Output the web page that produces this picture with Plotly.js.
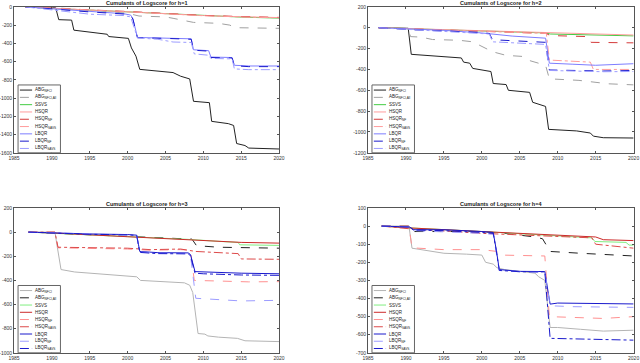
<!DOCTYPE html>
<html>
<head>
<meta charset="utf-8">
<script src="https://cdn.plot.ly/plotly-3.0.1.min.js"></script>
<style>
  html, body { margin: 0; padding: 0; background: #fff; }
  #plot { width: 640px; height: 363px; }
</style>
</head>
<body>
<div id="plot"></div>
<script>
// Cumulative log scores, [year, value] pairs
const h1_abg   = [[1986.5,0],[1990.5,-10],[1990.9,-140],[1992.6,-145],[1992.9,-255],[1995.5,-280],[1997.3,-300],[1997.5,-325],[2000.1,-345],[2000.5,-450],[2001.1,-540],[2001.6,-685],[2004,-700],[2006,-720],[2007,-760],[2008.2,-790],[2008.7,-1035],[2010.8,-1050],[2011.1,-1255],[2013.3,-1280],[2014,-1300],[2014.4,-1498],[2015.5,-1520],[2016,-1548],[2020,-1558]];
const h1_abg2  = [[1986.5,0],[1990.5,-10],[1995,-35],[2000,-70],[2001.5,-100],[2005,-110],[2006,-125],[2007.5,-150],[2008.7,-170],[2012,-180],[2013.5,-200],[2014.2,-228],[2020,-235]];
const h1_ssvs  = [[1986.5,0],[1990,-18],[1995,-35],[2000,-55],[2005,-80],[2010,-100],[2015,-112],[2020,-123]];
const h1_hsqr  = [[1986.5,0],[1990,-15],[1995,-32],[2000,-52],[2005,-75],[2010,-95],[2015,-108],[2020,-117]];
const h1_hsqr2 = [[1986.5,0],[1990,-16],[1995,-33],[2000,-50],[2005,-73],[2010,-93],[2015,-106],[2020,-115]];
const h1_hsqr3 = [[1986.5,0],[1990,-17],[1995,-34],[2000,-53],[2005,-77],[2010,-97],[2015,-110],[2020,-120]];
const h1_lbqr  = [[1986.5,0],[1990.5,-25],[1995,-50],[1999.5,-75],[2000.4,-90],[2000.7,-130],[2001.3,-335],[2005,-340],[2008.4,-350],[2008.7,-470],[2010.7,-480],[2011,-550],[2013.8,-555],[2014.1,-640],[2016,-648],[2020,-648]];
const h1_lbqr2 = [[1986.5,0],[1990.5,-28],[1995,-55],[1999.5,-78],[2000.4,-92],[2000.7,-135],[2001.3,-338],[2005,-345],[2008.4,-355],[2008.7,-475],[2010.7,-485],[2011,-555],[2013.8,-560],[2014.1,-645],[2016,-655],[2020,-655]];
const h1_lbqr3 = [[1986.5,0],[1990.5,-35],[1995,-80],[1999.5,-95],[2000.4,-110],[2001.3,-340],[2004,-355],[2006,-385],[2008.4,-390],[2008.8,-515],[2010.7,-530],[2011,-565],[2013.8,-570],[2014.1,-680],[2016,-688],[2020,-688]];

const h2_abg   = [[1986.4,0],[1990.3,-5],[1990.7,-255],[1993,-265],[1996,-280],[1997.3,-290],[1997.6,-330],[1998.4,-340],[1998.8,-390],[2000.5,-410],[2001.2,-420],[2001.5,-535],[2003.2,-545],[2003.5,-600],[2006.3,-620],[2006.7,-715],[2008.4,-755],[2008.8,-975],[2012.5,-990],[2014.3,-1010],[2014.7,-1040],[2016,-1055],[2020,-1058]];
const h2_abg2  = [[1986.4,0],[1990.3,-5],[1990.6,-85],[1992,-90],[1993.5,-113],[1997,-120],[1998.8,-135],[2000.1,-180],[2001.4,-230],[2003.2,-265],[2005.3,-275],[2006.2,-313],[2008.4,-360],[2008.9,-490],[2012.8,-505],[2016.7,-538],[2020,-548]];
const h2_ssvs  = [[1986.4,0],[1995,-20],[2000,-35],[2005,-45],[2008.5,-50],[2009,-60],[2012,-65],[2016,-75],[2020,-78]];
const h2_hsqr  = [[1986.4,0],[1995,-18],[2000,-30],[2005,-40],[2008.5,-47],[2012,-55],[2016,-65],[2020,-70]];
const h2_hsqr2 = [[1986.4,0],[1995,-20],[2000,-32],[2005,-45],[2008.5,-55],[2009,-75],[2014,-85],[2014.4,-140],[2020,-145]];
const h2_hsqr3 = [[1986.4,0],[1995,-22],[2000,-35],[2005,-45],[2008.5,-55],[2008.9,-310],[2012,-320],[2014.3,-330],[2014.7,-400],[2020,-400]];
const h2_lbqr  = [[1986.4,0],[1991,-15],[1995,-25],[2000,-50],[2004,-80],[2008.4,-100],[2008.9,-340],[2012,-350],[2015,-360],[2020,-345]];
const h2_lbqr2 = [[1986.4,0],[1991,-20],[2000,-45],[2001,-55],[2001.4,-115],[2006,-130],[2008.4,-140],[2008.9,-405],[2012,-410],[2016,-415],[2020,-410]];
const h2_lbqr3 = [[1986.4,0],[1991,-18],[2000,-50],[2001,-60],[2001.4,-135],[2006,-150],[2008.4,-160],[2008.9,-410],[2012,-418],[2016,-422],[2020,-420]];

const h3_abg   = [[1986.9,0],[1990.4,0],[1990.7,-120],[1991.2,-310],[1993,-330],[1996,-345],[1998.8,-360],[2001.2,-370],[2001.7,-400],[2005,-412],[2007.5,-420],[2008.2,-440],[2008.6,-500],[2009.3,-840],[2010.2,-845],[2010.6,-860],[2012,-870],[2014.5,-880],[2015.5,-900],[2020,-907]];
const h3_abg2  = [[1986.9,0],[1995,-20],[2000,-35],[2005,-45],[2008.5,-58],[2009.1,-112],[2012,-125],[2020,-133]];
const h3_ssvs  = [[1986.9,0],[1990.5,-10],[2000,-40],[2005,-50],[2008,-60],[2013,-80],[2014.6,-85],[2014.8,-105],[2020,-110]];
const h3_hsqr  = [[1986.9,0],[1990.5,-8],[2000,-38],[2005,-55],[2008,-63],[2012,-75],[2015,-85],[2020,-91]];
const h3_hsqr2 = [[1986.9,0],[1990.4,0],[1990.8,-130],[1995,-135],[2000,-140],[2003,-150],[2007,-145],[2008.3,-150],[2008.8,-400],[2012,-405],[2016,-412],[2020,-410]];
const h3_hsqr3 = [[1986.9,0],[1990.4,0],[1990.8,-125],[1995,-128],[2000,-133],[2003,-145],[2007,-140],[2009,-160],[2012,-170],[2014.6,-178],[2015,-222],[2020,-225]];
const h3_lbqr  = [[1986.9,0],[1991,-10],[1995,-15],[2000,-20],[2001.2,-25],[2001.6,-160],[2004,-170],[2008,-172],[2008.3,-185],[2008.9,-327],[2010,-330],[2015,-340],[2020,-345]];
const h3_lbqr2 = [[1986.9,0],[1991,-10],[1995,-15],[2000,-25],[2001.2,-30],[2001.6,-165],[2004,-175],[2008,-178],[2008.3,-190],[2009,-548],[2013,-560],[2015,-570],[2020,-565]];
const h3_lbqr3 = [[1986.9,0],[1991,-12],[1995,-18],[2000,-22],[2001.2,-28],[2001.6,-168],[2004,-178],[2008,-180],[2008.3,-195],[2008.9,-340],[2010,-345],[2015,-355],[2020,-358]];

const h4_abg   = [[1986.8,0],[1990.4,0],[1990.8,-122],[1992,-130],[1995,-150],[1998,-155],[2000,-160],[2000.5,-200],[2001.5,-210],[2002,-230],[2003,-240],[2005,-250],[2007,-260],[2007.5,-280],[2008.3,-300],[2009,-560],[2010,-560],[2013,-570],[2016,-580],[2020,-575]];
const h4_abg2  = [[1986.8,0],[1990.4,0],[1990.8,-30],[2000,-30],[2003,-40],[2007,-60],[2008,-70],[2009,-140],[2013,-150],[2020,-165]];
const h4_ssvs  = [[1986.8,0],[1990.5,-10],[2000,-30],[2007,-45],[2010,-55],[2014.5,-65],[2014.9,-85],[2019,-90],[2019.4,-105],[2020,-105]];
const h4_hsqr  = [[1986.8,0],[1990.5,-10],[2000,-30],[2007,-45],[2010,-50],[2015,-60],[2016,-75],[2020,-80]];
const h4_hsqr2 = [[1986.8,0],[1990.4,0],[1990.8,-120],[1995,-130],[2000,-130],[2002,-140],[2002.5,-160],[2008.3,-165],[2008.9,-500],[2012,-505],[2016,-510],[2020,-500]];
const h4_hsqr3 = [[1986.8,0],[1990.5,-15],[2000,-40],[2005,-50],[2008,-55],[2012,-60],[2014.5,-65],[2015,-100],[2020,-122]];
const h4_lbqr  = [[1986.8,0],[1990.5,-5],[1991,-20],[1995,-20],[2000,-30],[2001.5,-35],[2001.9,-130],[2002.3,-240],[2005,-250],[2008.3,-251],[2009,-431],[2010,-425],[2020,-430]];
const h4_lbqr2 = [[1986.8,0],[1990.5,-5],[1991,-25],[1995,-30],[2000,-40],[2001.5,-45],[2001.9,-140],[2002.3,-245],[2005,-252],[2008.3,-255],[2009,-440],[2012,-445],[2020,-449]];
const h4_lbqr3 = [[1986.8,0],[1990.5,-5],[1991,-22],[1995,-25],[2000,-35],[2001.5,-40],[2001.9,-135],[2002.3,-245],[2005,-252],[2008.3,-253],[2009,-620],[2013,-625],[2020,-630]];

// Legend labels
const seriesNames = ['ABG<sub>NFCI</sub>', 'ABG<sub>NFCI,All</sub>', 'SSVS', 'HSQR', 'HSQR<sub>NF</sub>', 'HSQR<sub>SAVS</sub>', 'LBQR', 'LBQR<sub>NF</sub>', 'LBQR<sub>SAVS</sub>'];

// Panel titles and axes ticks
const panelTitles = ['Cumulants of Logscore for h=1', 'Cumulants of Logscore for h=2', 'Cumulants of Logscore for h=3', 'Cumulants of Logscore for h=4'];
const yearTicks = [1985, 1990, 1995, 2000, 2005, 2010, 2015, 2020];
const yTicks1 = [0, -200, -400, -600, -800, -1000, -1200, -1400, -1600];
const yTicks2 = [200, 0, -200, -400, -600, -800, -1000, -1200];
const yTicks3 = [200, 0, -200, -400, -600, -800, -1000];
const yTicks4 = [100, 0, -100, -200, -300, -400, -500, -600, -700];

const panelData = [
  [h1_abg, h1_abg2, h1_ssvs, h1_hsqr, h1_hsqr2, h1_hsqr3, h1_lbqr, h1_lbqr2, h1_lbqr3],
  [h2_abg, h2_abg2, h2_ssvs, h2_hsqr, h2_hsqr2, h2_hsqr3, h2_lbqr, h2_lbqr2, h2_lbqr3],
  [h3_abg, h3_abg2, h3_ssvs, h3_hsqr, h3_hsqr2, h3_hsqr3, h3_lbqr, h3_lbqr2, h3_lbqr3],
  [h4_abg, h4_abg2, h4_ssvs, h4_hsqr, h4_hsqr2, h4_hsqr3, h4_lbqr, h4_lbqr2, h4_lbqr3]
];
const panelYTicks = [yTicks1, yTicks2, yTicks3, yTicks4];

// line styles: top row (h=1,2) and bottom row (h=3,4) use different schemes
const stylesTop = [
  { color: '#222222', dash: 'solid' },
  { color: '#a0a0a0', dash: 'dash' },
  { color: '#44cc44', dash: 'solid' },
  { color: '#ff9c9c', dash: 'solid' },
  { color: '#d43a3a', dash: 'dash' },
  { color: '#ff9c9c', dash: 'dashdot' },
  { color: '#7d7dff', dash: 'solid' },
  { color: '#1a1acc', dash: 'dash' },
  { color: '#9c9cff', dash: 'dashdot' }
];
const stylesBottom = [
  { color: '#b4b4b4', dash: 'solid' },
  { color: '#222222', dash: 'dash' },
  { color: '#80ee80', dash: 'solid' },
  { color: '#cc2a2a', dash: 'solid' },
  { color: '#ff9090', dash: 'dash' },
  { color: '#dd4a4a', dash: 'dashdot' },
  { color: '#1a1acc', dash: 'solid' },
  { color: '#9c9cff', dash: 'dash' },
  { color: '#1a1acc', dash: 'dashdot' }
];

// subplot domains in paper units
const xDomains = [[0.022, 0.436], [0.575, 0.99], [0.022, 0.436], [0.575, 0.99]];
const yDomains = [[0.579, 0.981], [0.579, 0.981], [0.028, 0.427], [0.028, 0.427]];
const yRanges = [[-1600, 0], [-1200, 200], [-1000, 200], [-700, 100]];

const traces = [];
const shapes = [];
const annotations = [];
const layout = {
  width: 640,
  height: 363,
  margin: { l: 0, r: 0, t: 0, b: 0 },
  paper_bgcolor: '#ffffff',
  plot_bgcolor: '#ffffff',
  showlegend: false,
  font: { family: 'Liberation Sans, Arial, sans-serif', size: 5, color: '#333' }
};

panelData.forEach((series, p) => {
  const n = p + 1;
  const xa = 'x' + (n === 1 ? '' : n);
  const ya = 'y' + (n === 1 ? '' : n);
  const styles = p < 2 ? stylesTop : stylesBottom;

  series.forEach((pts, i) => {
    traces.push({
      x: pts.map(d => d[0]),
      y: pts.map(d => d[1]),
      xaxis: xa,
      yaxis: ya,
      type: 'scatter',
      mode: 'lines',
      name: seriesNames[i],
      line: { color: styles[i].color, dash: styles[i].dash, width: 1 },
      hoverinfo: 'skip'
    });
  });

  const axisCommon = {
    showgrid: false,
    zeroline: false,
    showline: true,
    linecolor: '#555',
    linewidth: 1,
    mirror: 'allticks',
    ticks: 'inside',
    ticklen: 2,
    tickcolor: '#555',
    ticklabeloverflow: 'allow',
    tickfont: { size: 5, color: '#333' }
  };
  layout['xaxis' + (n === 1 ? '' : n)] = Object.assign({}, axisCommon, {
    domain: xDomains[p],
    anchor: ya,
    range: [1985, 2020],
    tickvals: yearTicks,
    ticktext: yearTicks.map(String)
  });
  layout['yaxis' + (n === 1 ? '' : n)] = Object.assign({}, axisCommon, {
    domain: yDomains[p],
    anchor: xa,
    range: yRanges[p],
    tickvals: panelYTicks[p],
    ticktext: panelYTicks[p].map(String)
  });

  // title
  annotations.push({
    xref: xa + ' domain', yref: ya + ' domain',
    x: 0.5, y: 1, yanchor: 'bottom', yshift: -1,
    showarrow: false,
    text: '<b>' + panelTitles[p] + '</b>',
    font: { size: 5.5, color: '#222' }
  });

  // legend box drawn inside the axes (bottom-left)
  shapes.push({
    type: 'rect', xref: xa + ' domain', yref: ya + ' domain',
    x0: 0.015, x1: 0.175, y0: 0.0, y1: 0.465,
    line: { color: '#666', width: 1 }, fillcolor: '#ffffff'
  });
  seriesNames.forEach((name, i) => {
    const yy = 0.43 - i * 0.05;
    shapes.push({
      type: 'line', xref: xa + ' domain', yref: ya + ' domain',
      x0: 0.022, x1: 0.068, y0: yy, y1: yy,
      line: { color: styles[i].color, dash: styles[i].dash, width: 1 }
    });
    annotations.push({
      xref: xa + ' domain', yref: ya + ' domain',
      x: 0.072, y: yy, xanchor: 'left', yanchor: 'middle',
      showarrow: false,
      text: name,
      font: { size: 4.5, color: '#222' }
    });
  });
});

layout.shapes = shapes;
layout.annotations = annotations;

Plotly.newPlot('plot', traces, layout, { displayModeBar: false, staticPlot: true });
</script>
</body>
</html>
